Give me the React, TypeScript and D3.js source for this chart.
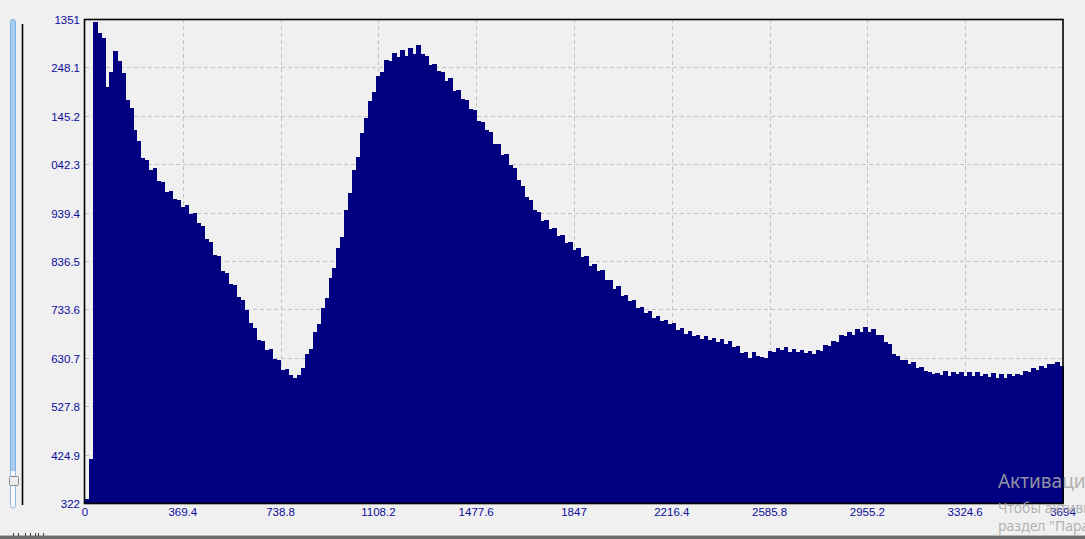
import * as React from "react"
import * as d3 from "d3"

// histogram counts, one per bin (bins split 0..3694 evenly)
const counts = [
  330, 415, 1344, 1322, 1310, 1206, 1238, 1284, 1262, 1236,
  1178, 1162, 1114, 1092, 1056, 1052, 1030, 1034, 1006, 1004,
  984, 986, 968, 966, 952, 955, 936, 938, 918, 911,
  884, 876, 850, 847, 816, 812, 788, 785, 760, 754,
  732, 705, 694, 668, 667, 648, 650, 628, 625, 604,
  607, 594, 588, 595, 610, 638, 650, 685, 703, 736,
  758, 800, 822, 864, 888, 945, 982, 1030, 1058, 1108,
  1140, 1176, 1196, 1230, 1238, 1264, 1262, 1278, 1270, 1286,
  1272, 1290, 1276, 1296, 1276, 1272, 1254, 1256, 1240, 1238,
  1220, 1226, 1198, 1201, 1180, 1178, 1160, 1157, 1135, 1132,
  1114, 1111, 1085, 1085, 1062, 1064, 1041, 1034, 1008, 996,
  972, 966, 944, 940, 922, 923, 904, 906, 890, 891,
  874, 877, 859, 864, 846, 847, 826, 830, 816, 817,
  796, 796, 778, 783, 762, 764, 751, 753, 737, 738,
  725, 730, 716, 719, 708, 712, 702, 705, 690, 694,
  682, 687, 677, 680, 671, 677, 669, 672, 665, 670,
  660, 666, 654, 656, 641, 643, 630, 644, 635, 633,
  631, 645, 642, 652, 647, 653, 643, 649, 642, 647,
  641, 645, 639, 647, 645, 658, 655, 666, 665, 679,
  676, 685, 680, 692, 686, 697, 686, 692, 679, 680,
  665, 661, 639, 635, 625, 626, 617, 621, 610, 612,
  602, 601, 597, 599, 595, 603, 593, 601, 597, 601,
  593, 601, 591, 600, 593, 597, 589, 598, 588, 597,
  587, 597, 593, 597, 595, 603, 600, 608, 604, 614,
  610, 618, 617, 621, 613,
]

const xMax = 3694
const yMin = 322
const yMax = 1351

const xTicks = [0, 369.4, 738.8, 1108.2, 1477.6, 1847, 2216.4, 2585.8, 2955.2, 3324.6, 3694]
const xTickLabels = ["0", "369.4", "738.8", "1108.2", "1477.6", "1847", "2216.4", "2585.8", "2955.2", "3324.6", "3694"]
const yTicks = [322, 424.9, 527.8, 630.7, 733.6, 836.5, 939.4, 1042.3, 1145.2, 1248.1, 1351]
// left part of the longer labels is cut off in the original window
const yTickLabels = ["322", "424.9", "527.8", "630.7", "733.6", "836.5", "939.4", "042.3", "145.2", "248.1", "1351"]

const watermark = ["Активация Windows", "Чтобы активировать Windows, перейдите в", "раздел \"Параметры\"."]

const W = 1085
const H = 539
const left = 85
const right = 1063
const top = 19
const bottom = 503

export default function App() {
  React.useEffect(() => {
    document.body.style.margin = "0"
    document.body.style.background = "#f0f0f0"
  }, [])

  const x = d3.scaleLinear().domain([0, xMax]).range([left, right])
  const y = d3.scaleLinear().domain([yMin, yMax]).range([bottom, top])
  const binW = xMax / counts.length

  const labelColor = "#0c0c9c"
  const font = "'Liberation Sans', Arial, sans-serif"

  return (
    <svg width={W} height={H} style={{ display: "block", background: "#f0f0f0" }}>
      {/* slider at the left */}
      <rect x={10.5} y={19.5} width={5} height={458} rx={2.5} fill="#a9cdf1" stroke="#7eb0e2" />
      <rect x={10.5} y={470} width={5} height={38} rx={2.5} fill="#f7f9fc" stroke="#8fb9e4" />
      <rect x={9.5} y={476.5} width={9} height={9} rx={1} fill="#ececec" stroke="#8a8a8a" />
      <line x1={22.5} x2={22.5} y1={24} y2={505} stroke="#000" strokeWidth={1.6} />

      {/* grid */}
      <g stroke="#c4c4c4" strokeDasharray="4,3" strokeWidth={1}>
        {xTicks.slice(1, -1).map(t => (
          <line key={"gx" + t} x1={Math.round(x(t)) + 0.5} x2={Math.round(x(t)) + 0.5} y1={top} y2={bottom} />
        ))}
        {yTicks.slice(1, -1).map(t => (
          <line key={"gy" + t} x1={left} x2={right} y1={Math.round(y(t)) + 0.5} y2={Math.round(y(t)) + 0.5} />
        ))}
      </g>

      {/* histogram bars */}
      <g fill="#000080" shapeRendering="crispEdges">
        {counts.map((c, i) => {
          const x0 = x(i * binW)
          const x1 = x((i + 1) * binW)
          const yv = y(Math.max(yMin, Math.min(yMax, c)))
          return <rect key={i} x={x0} y={yv} width={x1 - x0 + 0.6} height={bottom - yv} />
        })}
      </g>

      {/* frame */}
      <rect x={left - 0.5} y={top + 0.5} width={right - left + 0.5} height={bottom - top} fill="none" stroke="#000" strokeWidth={1.6} />

      {/* y labels */}
      <g fill={labelColor} fontFamily={font} fontSize={11.5} textAnchor="end">
        {yTicks.map((t, i) => (
          <text key={"yl" + t} x={80} y={y(t) + 5}>{yTickLabels[i]}</text>
        ))}
      </g>

      {/* x labels */}
      <g fill={labelColor} fontFamily={font} fontSize={11.5} textAnchor="middle">
        {xTicks.map((t, i) => (
          <text key={"xl" + t} x={x(t)} y={516}>{xTickLabels[i]}</text>
        ))}
      </g>

      {/* window edge at the bottom */}
      <line x1={0} x2={W} y1={535.5} y2={535.5} stroke="#b5b5b5" />
      <rect x={0} y={536} width={W} height={3} fill="#6b6b6b" />
      <g stroke="#444" strokeWidth={1}>
        {[13.5, 18.5, 25.5, 30.5, 35.5, 38.5, 43.5].map(v => (
          <line key={"m" + v} x1={v} x2={v} y1={533} y2={536} />
        ))}
      </g>

      {/* activation watermark */}
      <g fill="#a8a8a8" fillOpacity={0.88} fontFamily="'Noto Sans', 'Open Sans', sans-serif">
        <text x={998} y={488} fontSize={19}>{watermark[0]}</text>
        <text x={998} y={513} fontSize={14}>{watermark[1]}</text>
        <text x={998} y={531} fontSize={14}>{watermark[2]}</text>
      </g>
    </svg>
  )
}
